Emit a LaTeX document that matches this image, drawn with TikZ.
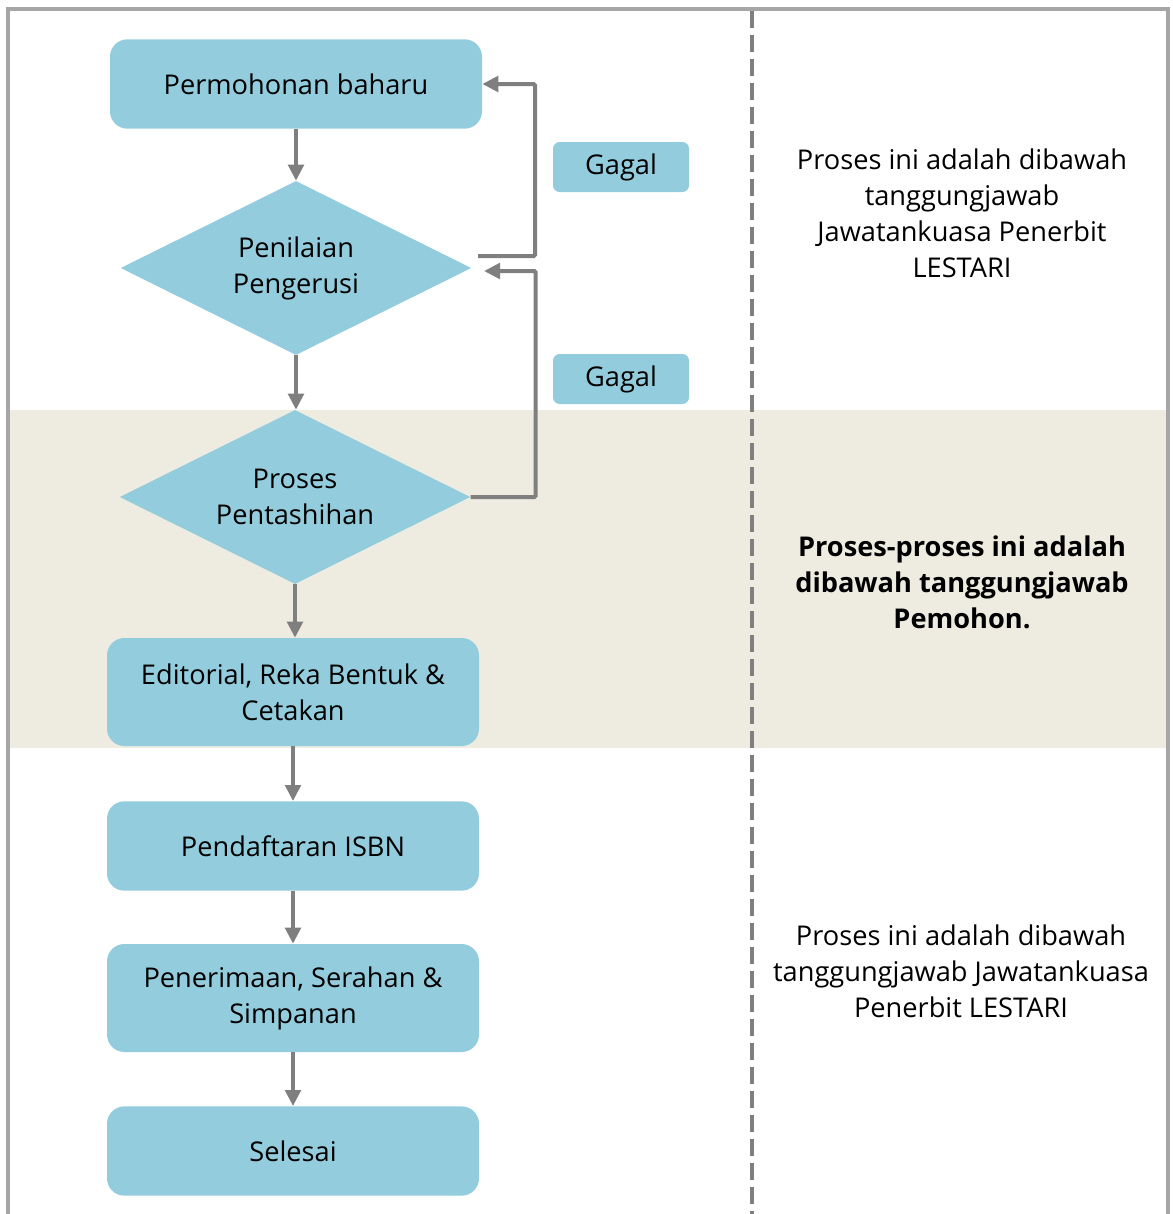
\documentclass[tikz,border=0pt]{standalone}
\usepackage{fontspec}
\setmainfont{Open Sans}
\usetikzlibrary{arrows.meta,shapes.geometric,calc,positioning}
\definecolor{boxblue}{HTML}{93CDDD}
\definecolor{bandbeige}{HTML}{EEECE1}
\definecolor{framegray}{HTML}{A6A6A6}
\definecolor{arrowgray}{HTML}{7F7F7F}

\begin{document}
\begin{tikzpicture}[x=0.75pt,y=-0.75pt,
	txt/.style={font=\fontsize{20.4}{27}\selectfont,align=center},
	stepbox/.style={txt,fill=boxblue,rounded corners=13pt,minimum width=279pt,minimum height=67pt},
	tallbox/.style={stepbox,minimum height=81pt},
	choice/.style={shape=diamond,fill=boxblue,inner sep=0pt,minimum width=263pt,minimum height=130.5pt},
	failbox/.style={txt,fill=boxblue,rounded corners=5pt,minimum width=102pt,minimum height=37.5pt},
	arr/.style={draw=arrowgray,line width=3pt,-{Triangle[length=12pt,width=11.5pt]}},
	]
	\useasboundingbox (0,0) rectangle (1173,1214);
	\fill[bandbeige] (10,410) rectangle (1168,748);
	\draw[framegray,line width=2.6pt] (8,1214) -- (8,9) -- (1168,9) -- (1168,1214);
	\draw[arrowgray,line width=2.3pt,dash pattern=on 13pt off 5pt] (752,11) -- (752,1214);

	\node[stepbox] (mohon) at (296,84) {Permohonan baharu};
	\node[choice,label={[txt]center:Penilaian\\Pengerusi}] (nilai) at (296,268) {};
	\node[choice,label={[txt]center:Proses\\Pentashihan}] (tashih) at (295,497) {};
	\node[tallbox] (edit) at (293,692) {Editorial, Reka Bentuk \&\\Cetakan};
	\node[stepbox] (isbn) at (293,846) {Pendaftaran ISBN};
	\node[tallbox] (terima) at (293,998) {Penerimaan, Serahan \&\\Simpanan};
	\node[stepbox] (selesai) at (293,1151) {Selesai};

	\node[failbox] (gagal1) at (621,167) {Gagal};
	\node[failbox] (gagal2) at (621,379) {Gagal};

	\node[txt] (nota1) at (962,213) {Proses ini adalah dibawah\\tanggungjawab\\Jawatankuasa Penerbit\\LESTARI};
	\node[txt,font=\fontsize{20.4}{27}\selectfont\bfseries] (nota2) at (962,582) {Proses-proses ini adalah\\dibawah tanggungjawab\\Pemohon.};
	\node[txt] (nota3) at (961,971) {Proses ini adalah dibawah\\tanggungjawab Jawatankuasa\\Penerbit LESTARI};

	\draw[arr] (mohon.south) -- (mohon.south |- nilai.north);
	\draw[arr] (nilai.south) -- (nilai.south |- tashih.north);
	\draw[arr] (tashih.south) -- (tashih.south |- edit.north);
	\draw[arr] (edit) -- (isbn);
	\draw[arr] (isbn) -- (terima);
	\draw[arr] (terima) -- (selesai);

	\coordinate (balik1) at (478,256);
	\coordinate (balik2) at (484,271);
	\draw[arr,rounded corners=1pt] (balik1) -- ++(57,0) |- (mohon.east);
	\draw[arr,rounded corners=1pt] (tashih.east) -- ++(65,0) |- (balik2);
\end{tikzpicture}
\end{document}
